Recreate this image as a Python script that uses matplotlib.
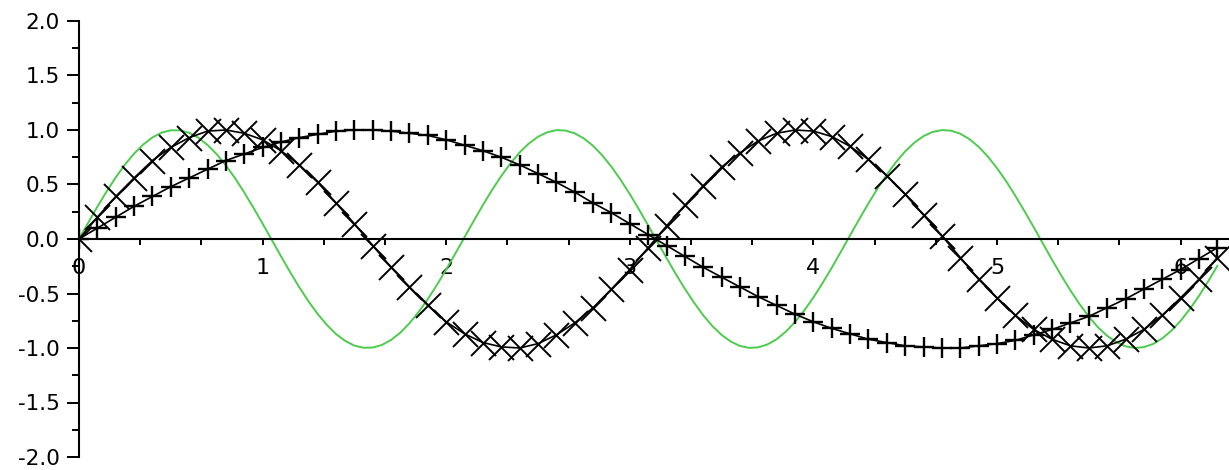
import matplotlib
matplotlib.use("Agg")
import matplotlib.pyplot as plt
from matplotlib.ticker import MultipleLocator

# ── data ────────────────────────────────────────────────────────────────────
# sample positions shared by the two marked series
x_marked = [0.0, 0.1, 0.2, 0.3, 0.4, 0.5, 0.6, 0.7, 0.8, 0.9,
            1.0, 1.1, 1.2, 1.3, 1.4, 1.5, 1.6, 1.7, 1.8, 1.9,
            2.0, 2.1, 2.2, 2.3, 2.4, 2.5, 2.6, 2.7, 2.8, 2.9,
            3.0, 3.1, 3.2, 3.3, 3.4, 3.5, 3.6, 3.7, 3.8, 3.9,
            4.0, 4.1, 4.2, 4.3, 4.4, 4.5, 4.6, 4.7, 4.8, 4.9,
            5.0, 5.1, 5.2, 5.3, 5.4, 5.5, 5.6, 5.7, 5.8, 5.9,
            6.0, 6.1, 6.2]

# '+' series
y_plus = [0.00, 0.10, 0.20, 0.30, 0.39, 0.48, 0.56, 0.64, 0.72, 0.78,
          0.84, 0.89, 0.93, 0.96, 0.99, 1.00, 1.00, 0.99, 0.97, 0.95,
          0.91, 0.86, 0.81, 0.75, 0.68, 0.60, 0.52, 0.43, 0.33, 0.24,
          0.14, 0.04, -0.06, -0.16, -0.26, -0.35, -0.44, -0.53, -0.61, -0.69,
          -0.76, -0.82, -0.87, -0.92, -0.95, -0.98, -0.99, -1.00, -1.00, -0.98,
          -0.96, -0.93, -0.88, -0.83, -0.77, -0.71, -0.63, -0.55, -0.46, -0.37,
          -0.28, -0.18, -0.08]

# 'x' series
y_cross = [0.00, 0.20, 0.39, 0.56, 0.72, 0.84, 0.93, 0.99, 1.00, 0.97,
           0.91, 0.81, 0.68, 0.52, 0.33, 0.14, -0.06, -0.26, -0.44, -0.61,
           -0.76, -0.87, -0.95, -0.99, -1.00, -0.96, -0.88, -0.77, -0.63, -0.46,
           -0.28, -0.08, 0.12, 0.31, 0.49, 0.66, 0.79, 0.90, 0.97, 1.00,
           0.99, 0.94, 0.85, 0.73, 0.58, 0.41, 0.22, 0.03, -0.17, -0.37,
           -0.54, -0.70, -0.83, -0.92, -0.98, -1.00, -0.98, -0.92, -0.83, -0.70,
           -0.54, -0.37, -0.17]

# green curve, sampled more finely
x_green = [0.00, 0.05, 0.10, 0.15, 0.20, 0.25, 0.30, 0.35, 0.40, 0.45,
           0.50, 0.55, 0.60, 0.65, 0.70, 0.75, 0.80, 0.85, 0.90, 0.95,
           1.00, 1.05, 1.10, 1.15, 1.20, 1.25, 1.30, 1.35, 1.40, 1.45,
           1.50, 1.55, 1.60, 1.65, 1.70, 1.75, 1.80, 1.85, 1.90, 1.95,
           2.00, 2.05, 2.10, 2.15, 2.20, 2.25, 2.30, 2.35, 2.40, 2.45,
           2.50, 2.55, 2.60, 2.65, 2.70, 2.75, 2.80, 2.85, 2.90, 2.95,
           3.00, 3.05, 3.10, 3.15, 3.20, 3.25, 3.30, 3.35, 3.40, 3.45,
           3.50, 3.55, 3.60, 3.65, 3.70, 3.75, 3.80, 3.85, 3.90, 3.95,
           4.00, 4.05, 4.10, 4.15, 4.20, 4.25, 4.30, 4.35, 4.40, 4.45,
           4.50, 4.55, 4.60, 4.65, 4.70, 4.75, 4.80, 4.85, 4.90, 4.95,
           5.00, 5.05, 5.10, 5.15, 5.20, 5.25, 5.30, 5.35, 5.40, 5.45,
           5.50, 5.55, 5.60, 5.65, 5.70, 5.75, 5.80, 5.85, 5.90, 5.95,
           6.00, 6.05, 6.10, 6.15, 6.20]
y_green = [0.000, 0.149, 0.296, 0.435, 0.565, 0.682, 0.783, 0.867, 0.932, 0.976,
           0.997, 0.997, 0.974, 0.929, 0.863, 0.778, 0.675, 0.558, 0.427, 0.287,
           0.141, -0.008, -0.158, -0.304, -0.443, -0.572, -0.688, -0.788, -0.872, -0.935,
           -0.978, -0.998, -0.996, -0.972, -0.926, -0.859, -0.773, -0.669, -0.551, -0.420,
           -0.279, -0.133, 0.017, 0.166, 0.312, 0.450, 0.578, 0.694, 0.794, 0.876,
           0.938, 0.979, 0.999, 0.995, 0.970, 0.922, 0.855, 0.767, 0.663, 0.543,
           0.412, 0.271, 0.125, -0.025, -0.174, -0.319, -0.457, -0.584, -0.700, -0.799,
           -0.880, -0.941, -0.981, -0.999, -0.994, -0.967, -0.919, -0.850, -0.762, -0.656,
           -0.537, -0.404, -0.264, -0.116, 0.034, 0.183, 0.327, 0.465, 0.592, 0.706,
           0.804, 0.884, 0.944, 0.983, 0.999, 0.994, 0.966, 0.916, 0.846, 0.757,
           0.650, 0.530, 0.396, 0.255, 0.108, -0.042, -0.191, -0.335, -0.472, -0.598,
           -0.712, -0.810, -0.888, -0.946, -0.984, -1.000, -0.992, -0.963, -0.912, -0.841,
           -0.751, -0.643, -0.523, -0.389, -0.247]

x_ticks = [0, 1, 2, 3, 4, 5, 6]
y_ticks = [-2.0, -1.5, -1.0, -0.5, 0.0, 0.5, 1.0, 1.5, 2.0]

# ── figure ──────────────────────────────────────────────────────────────────
plt.rcParams['font.family'] = ['DejaVu Sans']
plt.rcParams['axes.unicode_minus'] = False

W, H = 1229, 470
fig = plt.figure(figsize=(W / 100, H / 100), dpi=100)
ax = fig.add_axes([79 / W, 13 / H, 1150 / W, 444 / H])

ax.plot(x_green, y_green, color='#4ccc4c', lw=1.4, zorder=2)
ax.plot(x_marked, y_plus, color='black', lw=1.2, marker='+', ms=15, mew=1.7, zorder=3)
ax.plot(x_marked, y_cross, color='black', lw=1.2, marker='x', ms=18, mew=1.4, zorder=3)

ax.set_xlim(0, 1150 / 183.6)
ax.set_ylim(-2.0, 2.0 + 8 / 109)

# axes: y spine on the left, x axis through zero
for side in ('top', 'right'):
    ax.spines[side].set_visible(False)
ax.spines['left'].set_bounds(-2.0, 2.0)
ax.spines['left'].set_linewidth(1.5)
ax.spines['bottom'].set_position(('data', 0))
ax.spines['bottom'].set_linewidth(1.5)
ax.spines['bottom'].set_zorder(4)

ax.set_xticks(x_ticks)
ax.set_xticklabels([str(t) for t in x_ticks])
ax.xaxis.set_minor_locator(MultipleLocator(1 / 3))
ax.set_yticks(y_ticks)
ax.set_yticklabels([f"{t:.1f}" for t in y_ticks])
ax.yaxis.set_minor_locator(MultipleLocator(0.25))

ax.tick_params(axis='x', which='both', direction='out', length=4, width=1.4,
               pad=10, labelsize=16)
ax.tick_params(axis='y', which='major', direction='out', length=9, width=1.4,
               pad=5, labelsize=15.5)
ax.tick_params(axis='y', which='minor', direction='out', length=5, width=1.4)

fig.savefig("out.png", dpi=100)
